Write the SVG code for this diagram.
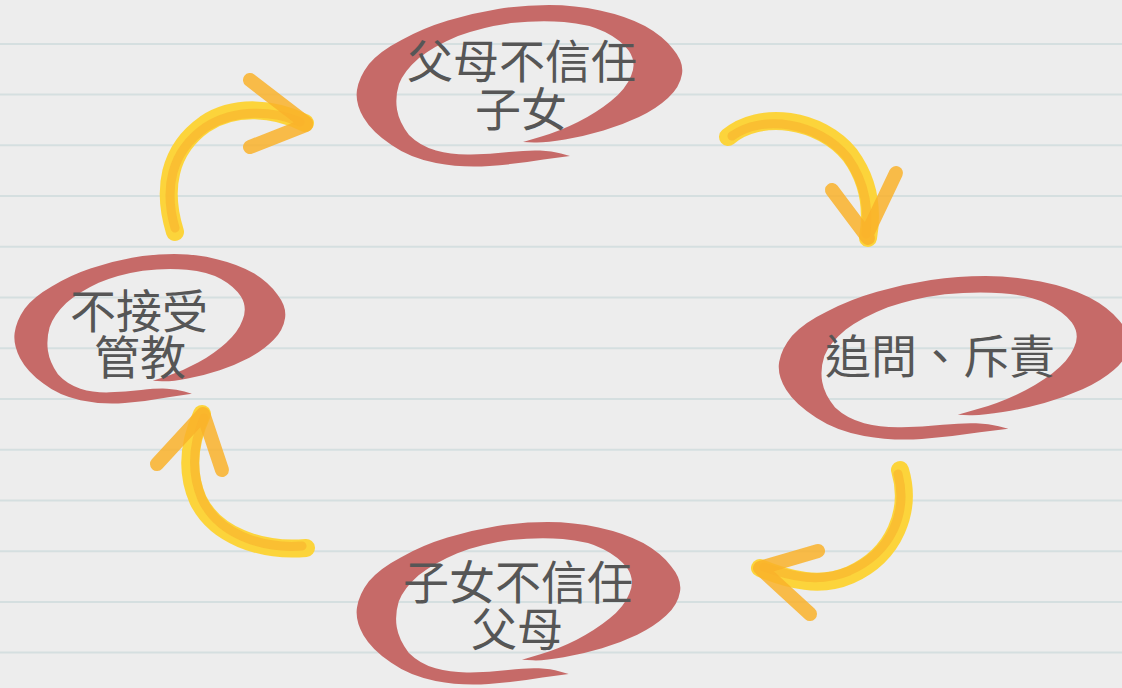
<svg xmlns="http://www.w3.org/2000/svg" xmlns:xlink="http://www.w3.org/1999/xlink" width="1122" height="688" viewBox="0 0 1122 688">
<style>
.grid line{stroke:#d5dfe0;stroke-width:2}
.ring{fill:#c66a68}
.lbl{font-family:"Noto Sans CJK TC","Noto Sans CJK SC",sans-serif;font-size:46px;fill:#565656;text-anchor:middle}
.a-body{fill:none;stroke:#fdd332;stroke-width:18;stroke-linecap:round;opacity:.95}
.a-core{fill:none;stroke:#f7a92a;stroke-width:9;stroke-linecap:round;opacity:.5}
.a-head{fill:none;stroke:#f9b22a;stroke-width:14;stroke-linecap:round;opacity:.85}
</style>
<defs>
<path id="ring" class="ring" d="M570,156 L543.5,159.5 Q517,164 489.5,166 Q462,168 436,163 Q410,158 391.5,145 Q372,132 363.5,117.5 Q355,103 357,90 Q359,77 369,64 Q380,51 401.5,40 Q423,28 448,20.5 Q473,13 498,9 Q523,5 549,5 Q575,5 600,10.5 Q626,16 645,26 Q663,36 673,49 Q684,62 682,74 Q680,87 668,98 Q656,109 639,117 Q622,125 603.5,130.5 Q585,136 565,139.5 Q545,143 534,142.5 L523,142 L541.5,136.5 Q560,131 578,122 Q596,113 611,101 Q626,89 631,76 Q637,63 629,51 Q621,40 605,32 Q589,24 564,22 Q540,20 511,23 Q482,27 458,36 Q434,46 419,58 Q404,71 399,84 Q395,97 397,109.5 Q399,122 409,135 Q420,146 436,150.5 Q452,155 471,154.5 Q490,154 509,152 Q528,150 540,150.5 Q552,151 561,153.5 Z"/>
</defs>
<rect width="1122" height="688" fill="#ededed"/>
<g class="grid">
<line x1="0" y1="44" x2="1122" y2="44"/>
<line x1="0" y1="94.6" x2="1122" y2="94.6"/>
<line x1="0" y1="145.3" x2="1122" y2="145.3"/>
<line x1="0" y1="196" x2="1122" y2="196"/>
<line x1="0" y1="246.7" x2="1122" y2="246.7"/>
<line x1="0" y1="297.4" x2="1122" y2="297.4"/>
<line x1="0" y1="348.2" x2="1122" y2="348.2"/>
<line x1="0" y1="399" x2="1122" y2="399"/>
<line x1="0" y1="449.7" x2="1122" y2="449.7"/>
<line x1="0" y1="500.5" x2="1122" y2="500.5"/>
<line x1="0" y1="551.2" x2="1122" y2="551.2"/>
<line x1="0" y1="601.9" x2="1122" y2="601.9"/>
<line x1="0" y1="652.6" x2="1122" y2="652.6"/>
</g>
<g id="node-parents-distrust">
<use xlink:href="#ring" href="#ring"/>
<text class="lbl" x="522" y="78">父母不信任</text>
<text class="lbl" x="521" y="126">子女</text>
</g>
<g id="node-question-scold">
<use xlink:href="#ring" href="#ring" transform="translate(777,277) scale(1.076,1.012) translate(-355,-6)"/>
<text class="lbl" x="940" y="373">追問、斥責</text>
</g>
<g id="node-children-distrust">
<use xlink:href="#ring" href="#ring" transform="translate(355,523) scale(0.994,1.006) translate(-355,-6)"/>
<text class="lbl" x="518" y="599">子女不信任</text>
<text class="lbl" x="517" y="646">父母</text>
</g>
<g id="node-reject-discipline">
<use xlink:href="#ring" href="#ring" transform="translate(13,255) scale(0.832,0.925) translate(-355,-6)"/>
<text class="lbl" x="139" y="328">不接受</text>
<text class="lbl" x="140" y="374">管教</text>
</g>
<g id="connectors">
<g>
<path class="a-body" d="M175,232 C162,190 168,150 205,124 C235,104 275,108 305,123"/>
<path class="a-core" d="M175,228 C164,190 170,152 206,127 C236,108 274,111 300,122"/>
<path class="a-head" d="M250,80 L306,123 M250,147 L306,125"/>
</g>
<g>
<path class="a-body" d="M728,137 C760,110 820,118 850,155 C872,185 872,215 868,238"/>
<path class="a-core" d="M732,136 C762,114 818,122 847,157 C868,186 868,214 866,234"/>
<path class="a-head" d="M832,190 L868,238 M896,173 L866,236"/>
</g>
<g>
<path class="a-body" d="M900,470 C912,510 895,555 850,575 C820,588 790,580 760,568"/>
<path class="a-core" d="M898,474 C908,512 892,552 849,571 C820,583 792,577 764,567"/>
<path class="a-head" d="M818,551 L760,568 M810,614 L762,570"/>
</g>
<g>
<path class="a-body" d="M306,548 C260,552 215,535 198,500 C185,470 190,440 202,414"/>
<path class="a-core" d="M302,546 C260,549 218,533 202,499 C190,470 194,442 204,418"/>
<path class="a-head" d="M157,464 L203,414 M222,470 L204,416"/>
</g>
</g>
</svg>
